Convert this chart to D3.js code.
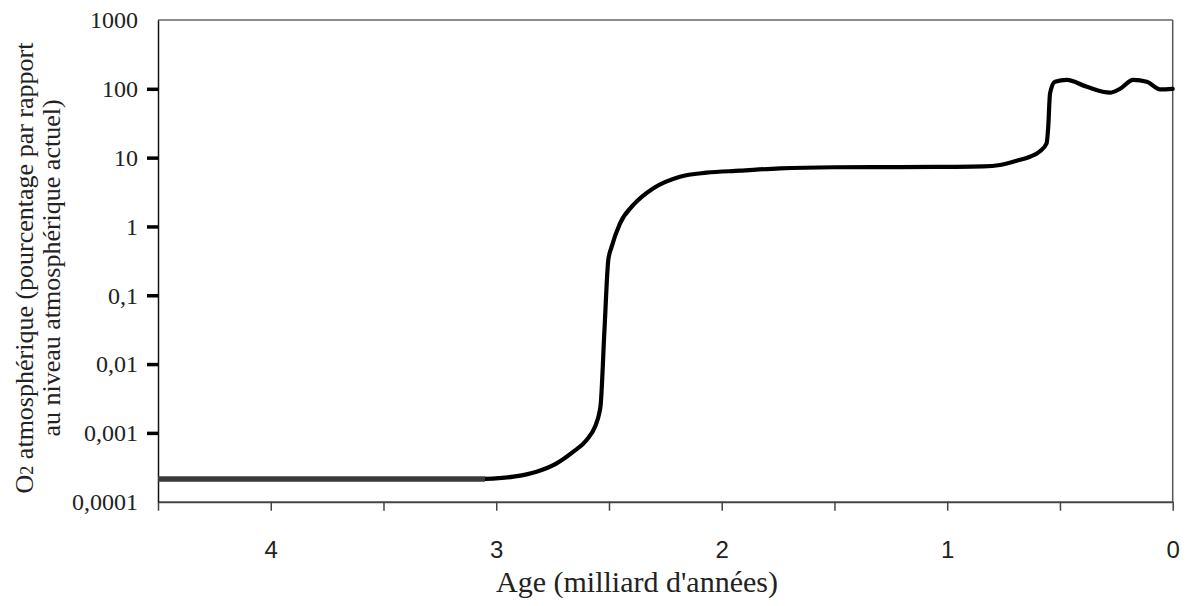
<!DOCTYPE html>
<html>
<head>
<meta charset="utf-8">
<script src="https://cdn.jsdelivr.net/npm/d3@7"></script>
<style>
  html, body { margin: 0; padding: 0; background: #fff; }
  svg { display: block; }
</style>
</head>
<body>
<svg id="chart" width="1188" height="606"></svg>
<script>
// ---- data ----
const ages = [4.5, 3.05, 2.924, 2.821, 2.732, 2.658, 2.599, 2.562, 2.543, 2.537, 2.520, 2.503, 2.488, 2.451, 2.392, 2.303, 2.185, 2.067, 1.919, 1.742, 1.5, 1.21, 0.988, 0.84, 0.766, 0.692, 0.633, 0.59, 0.559, 0.552, 0.544, 0.522, 0.47, 0.381, 0.278, 0.234, 0.175, 0.115, 0.056, 0];
const o2 = [2.14e-4, 2.14e-4, 2.31e-4, 2.73e-4, 3.61e-4, 5.33e-4, 7.89e-4, 1.23e-3, 1.93e-3, 2.54e-3, 0.0313, 0.326, 0.508, 1.11, 2.05, 3.59, 5.28, 6.04, 6.46, 7.0, 7.25, 7.3, 7.35, 7.45, 7.82, 9.0, 10.3, 12.3, 16.2, 28, 86, 127, 135, 107, 88, 100, 135, 127, 98, 100];
const xTickValues = [4.5, 4, 3.5, 3, 2.5, 2, 1.5, 1, 0.5, 0];
const xTickLabels = ["", "4", "", "3", "", "2", "", "1", "", "0"];
const yTickValues = [1000, 100, 10, 1, 0.1, 0.01, 0.001, 0.0001];
const yTickLabels = ["1000", "100", "10", "1", "0,1", "0,01", "0,001", "0,0001"];
const yTickMarked = [false, true, true, true, true, true, true, false];
const xTitle = "Age (milliard d'années)";
const yTitle1a = "O";
const yTitle1sub = "2";
const yTitle1b = " atmosphérique (pourcentage par rapport";
const yTitle2 = "au niveau atmosphérique actuel)";
const flatEnd = 2; // first points drawn as the grey flat segment

// ---- layout ----
const L = 158, R = 1172.7, T = 20, B = 501.7;
const svg = d3.select("#chart");
const x = d3.scaleLinear().domain([4.5, 0]).range([L, R]);
const y = d3.scaleLog().domain([0.0001, 1000]).range([B, T]);

const serif = "'Liberation Serif', 'Times New Roman', serif";
const sans = "'Liberation Sans', Arial, sans-serif";

// frame: top and right
svg.append("line").attr("x1", L).attr("x2", R).attr("y1", T).attr("y2", T)
  .attr("stroke", "#666").attr("stroke-width", 1.5);
svg.append("line").attr("x1", R).attr("x2", R).attr("y1", T).attr("y2", B)
  .attr("stroke", "#555").attr("stroke-width", 1.5);

// x axis
const xAxis = d3.axisBottom(x).tickValues(xTickValues)
  .tickFormat((d, i) => xTickLabels[i]).tickSize(9).tickSizeOuter(0);
const gx = svg.append("g").attr("transform", `translate(0,${B})`).call(xAxis);
gx.select(".domain").attr("stroke", "#444").attr("stroke-width", 2);
gx.selectAll(".tick line").attr("stroke", "#444").attr("stroke-width", 1.5);
gx.selectAll(".tick text").attr("font-family", sans).attr("font-size", 24)
  .attr("fill", "#222").attr("dy", null).attr("y", 56);

// y axis
const yAxis = d3.axisLeft(y).tickValues(yTickValues)
  .tickFormat((d, i) => yTickLabels[i]).tickSize(11).tickSizeOuter(0);
const gy = svg.append("g").attr("transform", `translate(${L},0)`).call(yAxis);
gy.select(".domain").attr("stroke", "#111").attr("stroke-width", 1.5);
gy.selectAll(".tick line")
  .attr("stroke", "#000").attr("stroke-width", 3.5)
  .attr("display", (d, i) => yTickMarked[i] ? null : "none");
gy.selectAll(".tick text").attr("font-family", serif).attr("font-size", 24)
  .attr("fill", "#222").attr("x", -20).attr("dy", "0.33em");

// titles
svg.append("text").attr("x", 637).attr("y", 592).attr("text-anchor", "middle")
  .attr("font-family", serif).attr("font-size", 30).attr("fill", "#222").text(xTitle);

const yt = svg.append("g").attr("transform", "translate(0,268) rotate(-90)");
const t1 = yt.append("text").attr("x", 0).attr("y", 33).attr("text-anchor", "middle")
  .attr("font-family", serif).attr("font-size", 26).attr("fill", "#222");
t1.append("tspan").text(yTitle1a);
t1.append("tspan").attr("font-size", 18).text(yTitle1sub);
t1.append("tspan").text(yTitle1b);
yt.append("text").attr("x", 0).attr("y", 60).attr("text-anchor", "middle")
  .attr("font-family", serif).attr("font-size", 26).attr("fill", "#222").text(yTitle2);

// curve
const pts = ages.map((a, i) => [a, o2[i]]);
const line = d3.line().x(d => x(d[0])).y(d => y(d[1])).curve(d3.curveMonotoneX);
svg.append("path").datum(pts.slice(flatEnd - 1)).attr("d", line)
  .attr("fill", "none").attr("stroke", "#000").attr("stroke-width", 4.2)
  .attr("stroke-linejoin", "round").attr("stroke-linecap", "round");
svg.append("path").datum(pts.slice(0, flatEnd)).attr("d", line)
  .attr("fill", "none").attr("stroke", "#3a3a3a").attr("stroke-width", 5.5);
</script>
</body>
</html>
